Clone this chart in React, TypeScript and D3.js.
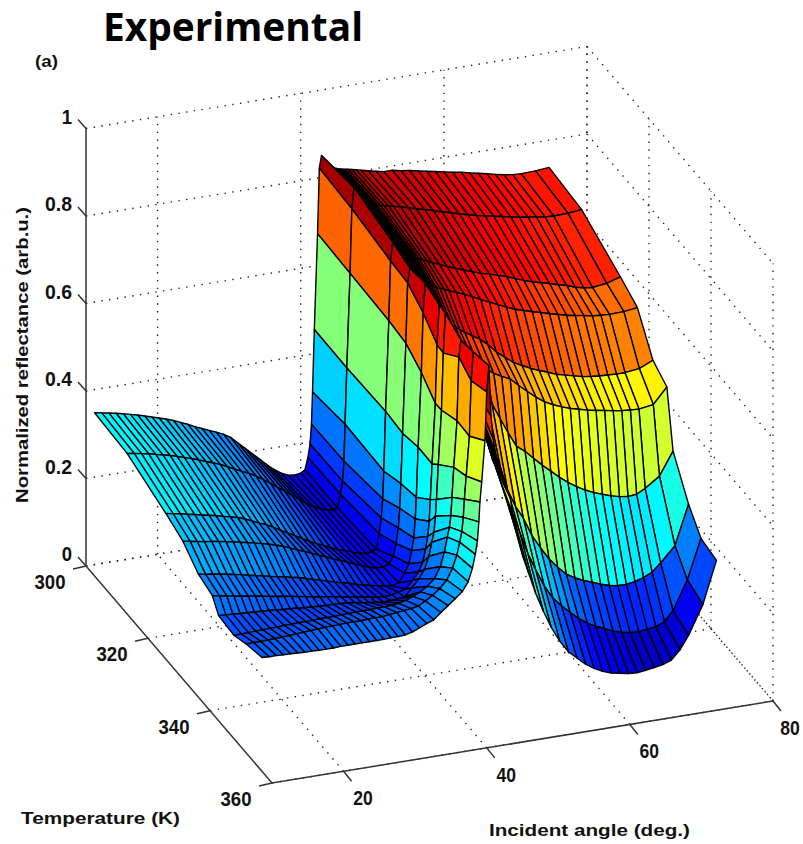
import React, { useEffect, useRef } from 'react';
import * as d3 from 'd3';

const angles = [
  11.2, 12.2, 13.2, 14.2, 15.2, 16.2, 17.2, 18.2, 19.2, 20.2, 21.2, 22.2, 23.2, 24.2, 25.2, 26.2, 27.2, 28.2, 29.2, 30.2, 31.2, 32.2, 33.2, 34.2, 35.2, 36.2, 37.2, 38.2,
  39.2, 40, 40.6, 41, 41.3, 41.5, 41.65, 41.9, 42.35, 42.6, 42.9,
  43.2, 43.5, 43.8, 44.1, 44.4, 44.7, 45, 45.3, 45.6, 45.9, 46.2, 46.6, 47.1, 47.7, 48.4, 49.4, 50.5, 51.6, 52.8, 54, 55.2, 56.4, 57.6, 58.8, 60, 61.2, 62.4, 63.6, 64.8, 66, 67.2, 68.4, 69.6, 70.8, 72.8, 74.7,
];
const temperatures = [300, 310.5, 323, 328.5, 333.5, 338, 340, 345, 349, 354];

const r300 = [
  .347, .344, .341, .338, .334, .33, .326, .321, .316, .311, .306, .30, .293, .286, .278, .271, .264, .257, .25, .24, .225, .21, .195, .18, .165, .151, .14, .132,
  .13, .132, .138, .165, .195, .24, .313, .455, .673, .822, .85,
  .84, .832, .827, .823, .82, .817, .815, .813, .812, .811, .81, .809, .807, .805, .802, .798, .794, .79, .79, .786, .783, .779, .775, .771, .767, .763, .76, .755, .751, .747, .742, .738, .735, .734, .735, .738,
];
const r310 = [
  .341, .338, .335, .332, .328, .324, .32, .315, .31, .305, .299, .293, .287, .281, .273, .265, .257, .25, .241, .23, .219, .207, .196, .184, .172, .16, .15, .142,
  .136, .135, .138, .168, .197, .242, .326, .454, .669, .816, .864,
  .85, .842, .836, .831, .827, .824, .821, .819, .817, .815, .814, .813, .811, .809, .806, .802, .797, .792, .787, .781, .775, .77, .764, .759, .754, .75, .746, .742, .738, .734, .731, .728, .725, .724, .725, .728,
];
const r323 = [
  .307, .304, .301, .297, .294, .29, .287, .283, .279, .275, .271, .265, .258, .25, .244, .235, .226, .217, .208, .199, .19, .182, .175, .167, .16, .155, .149, .144,
  .14, .143, .146, .181, .216, .259, .322, .458, .664, .80, .842,
  .835, .828, .823, .818, .814, .81, .807, .804, .802, .799, .797, .794, .79, .786, .78, .774, .766, .759, .752, .745, .738, .733, .727, .721, .713, .706, .699, .694, .689, .683, .678, .671, .666, .664, .668, .678,
];
const r328 = [
  .289, .286, .283, .28, .278, .275, .272, .269, .265, .262, .258, .254, .25, .245, .24, .233, .226, .22, .213, .206, .199, .192, .186, .179, .172, .166, .16, .155,
  .155, .16, .176, .204, .239, .283, .339, .453, .658, .795, .828,
  .818, .812, .806, .80, .797, .793, .789, .786, .783, .78, .778, .774, .771, .767, .762, .755, .748, .74, .73, .721, .712, .703, .695, .689, .683, .678, .672, .667, .662, .658, .655, .651, .649, .648, .649, .653,
];
const r333 = [
  .255, .252, .25, .247, .244, .241, .238, .234, .23, .227, .223, .22, .217, .213, .21, .205, .2, .196, .191, .186, .182, .178, .173, .169, .165, .162, .159, .156,
  .16, .18, .20, .229, .257, .30, .349, .463, .632, .768, .835,
  .815, .804, .794, .785, .775, .768, .761, .754, .748, .742, .736, .73, .724, .716, .708, .698, .687, .672, .652, .636, .621, .611, .601, .593, .586, .578, .573, .568, .563, .56, .558, .557, .556, .556, .56, .574,
];
const r338 = [
  .243, .24, .237, .234, .231, .229, .226, .223, .22, .217, .215, .212, .209, .206, .203, .2, .198, .195, .192, .189, .187, .184, .181, .178, .176, .178, .181, .186,
  .203, .22, .241, .27, .298, .332, .381, .462, .599, .732, .823,
  .80, .785, .771, .758, .746, .736, .726, .718, .712, .706, .70, .694, .687, .679, .67, .659, .646, .636, .627, .609, .592, .576, .562, .552, .544, .537, .532, .527, .523, .52, .516, .513, .511, .51, .515, .55,
];
const r340 = [
  .214, .213, .212, .211, .21, .209, .208, .207, .206, .204, .203, .202, .2, .199, .198, .197, .197, .196, .195, .193, .19, .188, .186, .184, .184, .185, .187, .205,
  .223, .243, .271, .302, .324, .36, .398, .477, .60, .73, .82,
  .785, .77, .755, .741, .73, .718, .707, .70, .692, .685, .678, .669, .658, .644, .625, .595, .56, .525, .49, .475, .456, .437, .42, .403, .388, .375, .364, .355, .348, .341, .336, .333, .335, .345, .368, .42,
];
const r345 = [
  .21, .211, .211, .212, .212, .213, .213, .214, .214, .215, .215, .215, .216, .216, .216, .217, .217, .218, .218, .218, .219, .219, .22, .222, .226, .232, .24, .25,
  .265, .29, .322, .355, .377, .403, .444, .512, .617, .762, .80,
  .74, .721, .703, .685, .67, .655, .64, .625, .612, .60, .59, .572, .55, .525, .495, .44, .40, .37, .327, .296, .267, .245, .226, .214, .205, .198, .19, .184, .18, .18, .183, .189, .198, .216, .25, .34,
];
const r349 = [
  .223, .224, .224, .225, .225, .226, .227, .228, .229, .23, .231, .232, .233, .233, .234, .234, .234, .235, .235, .235, .237, .239, .241, .243, .246, .255, .265, .278,
  .295, .32, .348, .376, .40, .432, .473, .525, .615, .741, .806,
  .72, .69, .667, .648, .625, .605, .588, .57, .552, .54, .525, .505, .48, .452, .42, .375, .325, .285, .245, .214, .193, .175, .158, .144, .133, .125, .116, .11, .106, .105, .107, .11, .118, .14, .205, .295,
];
const r354 = [
  .234, .233, .233, .232, .232, .231, .23, .23, .229, .229, .229, .23, .23, .23, .23, .23, .23, .23, .231, .231, .232, .236, .243, .25, .256, .27, .283, .296,
  .31, .33, .359, .39, .42, .463, .508, .553, .646, .757, .816,
  .70, .648, .617, .595, .58, .562, .547, .533, .52, .505, .47, .445, .405, .365, .33, .28, .235, .195, .16, .133, .115, .098, .085, .075, .068, .064, .06, .059, .061, .064, .068, .075, .095, .125, .19, .286,
];
const reflectance = [r300, r310, r323, r328, r333, r338, r340, r345, r349, r354];

const zTicks = [0, 0.2, 0.4, 0.6, 0.8, 1];
const angleTicks = [20, 40, 60, 80];
const tempTicks = [300, 320, 340, 360];

const App = () => {
  const chartRef = useRef<SVGSVGElement | null>(null);

  useEffect(() => {
    const svg = d3.select(chartRef.current);
    svg.selectAll('*').remove();

    // fixed orthographic view, MATLAB style
    const ox = 86;
    const oy = 566;
    const ax = d3.scaleLinear().domain([10, 80]).range([0, 501]);
    const ay = d3.scaleLinear().domain([10, 80]).range([0, -82]);
    const tx = d3.scaleLinear().domain([300, 360]).range([0, 186]);
    const ty = d3.scaleLinear().domain([300, 360]).range([0, 217]);
    const zy = d3.scaleLinear().domain([0, 1]).range([0, -437.5]);
    const project = (a: number, t: number, z: number): [number, number] => [
      ox + ax(a) + tx(t),
      oy + ay(a) + ty(t) + zy(z),
    ];

    // jet colormap over the data range
    const jet = d3.scaleLinear<string>()
      .domain([0.05, 0.15, 0.35, 0.55, 0.75, 0.85])
      .range(['#000080', '#0000ff', '#00ffff', '#ffff00', '#ff0000', '#800000'])
      .interpolate(d3.interpolateRgb)
      .clamp(true);

    const line = d3.line();
    const grid = svg.append('g')
      .attr('fill', 'none')
      .attr('stroke', '#222')
      .attr('stroke-width', 1.4)
      .attr('stroke-dasharray', '1.4 6.4');
    const dotted = (p: [number, number], q: [number, number]) =>
      grid.append('path').attr('d', line([p, q]));

    angleTicks.forEach(a => {
      dotted(project(a, 360, 0), project(a, 300, 0));
      dotted(project(a, 300, 0), project(a, 300, 1));
    });
    tempTicks.forEach(t => {
      dotted(project(10, t, 0), project(80, t, 0));
      dotted(project(80, t, 0), project(80, t, 1));
    });
    zTicks.forEach(z => {
      dotted(project(10, 300, z), project(80, 300, z));
      dotted(project(80, 300, z), project(80, 360, z));
    });

    // painter's order: back rows first, high angle first
    const surface = svg.append('g')
      .attr('stroke', '#000')
      .attr('stroke-width', 1.4)
      .attr('stroke-linejoin', 'round');
    for (let j = 0; j < temperatures.length - 1; j++) {
      for (let i = angles.length - 2; i >= 0; i--) {
        const quad = [
          project(angles[i], temperatures[j], reflectance[j][i]),
          project(angles[i + 1], temperatures[j], reflectance[j][i + 1]),
          project(angles[i + 1], temperatures[j + 1], reflectance[j + 1][i + 1]),
          project(angles[i], temperatures[j + 1], reflectance[j + 1][i]),
        ];
        surface.append('path')
          .attr('d', line(quad) + 'Z')
          .attr('fill', jet(reflectance[j][i]));
      }
    }

    // solid axes and ticks
    const axes = svg.append('g')
      .attr('fill', 'none')
      .attr('stroke', '#333')
      .attr('stroke-width', 1.5);
    axes.append('path').attr('d', line([project(10, 300, 1), project(10, 300, 0), project(10, 360, 0), project(80, 360, 0)]));
    zTicks.forEach(z => {
      const [x, y] = project(10, 300, z);
      axes.append('path').attr('d', line([[x, y], [x - 8, y - 9]]));
    });
    tempTicks.forEach(t => {
      const [x, y] = project(10, t, 0);
      axes.append('path').attr('d', line([[x, y], [x - 13, y + 3]]));
    });
    angleTicks.forEach(a => {
      const [x, y] = project(a, 360, 0);
      axes.append('path').attr('d', line([[x, y], [x + 8, y + 10]]));
    });

    const text = svg.append('g')
      .attr('font-family', '"Liberation Sans", Arial, sans-serif')
      .attr('font-weight', 700)
      .attr('fill', '#111');
    const label = (s: string, x: number, y: number, size: number, anchor = 'start') =>
      text.append('text')
        .attr('x', x).attr('y', y)
        .attr('font-size', size)
        .attr('text-anchor', anchor)
        .text(s);
    const fitted = (s: string, x: number, y: number, size: number, width: number, anchor = 'start') =>
      label(s, x, y, size, anchor)
        .attr('textLength', width)
        .attr('lengthAdjust', 'spacingAndGlyphs');
    const tickWidth = (s: string) => (s.includes('.') ? 27 : s.length * 10.3);

    zTicks.forEach(z => {
      const [x, y] = project(10, 300, z);
      const s = String(z);
      fitted(s, x - 14, y - 5, 20, tickWidth(s), 'end');
    });
    tempTicks.forEach(t => {
      const [x, y] = project(10, t, 0);
      fitted(String(t), x - 36, y + 23, 20, 31, 'middle');
    });
    angleTicks.forEach(a => {
      const [x, y] = project(a, 360, 0);
      // keep the last label inside the page edge
      fitted(String(a), Math.min(x + 19.5, 790), y + 34, 20, 19.5, 'middle');
    });

    fitted('(a)', 35, 67, 16, 23);
    fitted('Temperature (K)', 21, 824, 16.5, 159);
    fitted('Incident angle (deg.)', 489, 836, 16.5, 201);
    fitted('Normalized reflectance (arb.u.)', 0, 0, 16.5, 296)
      .attr('transform', 'translate(28,503) rotate(-90)');

    fitted('Experimental', 103, 41, 39, 260)
      .attr('font-family', '"Open Sans", sans-serif')
      .attr('fill', '#000');
  }, []);

  return (
    <svg
      ref={chartRef}
      width={803}
      height={844}
      style={{ position: 'absolute', left: 0, top: 0, display: 'block', background: '#fff' }}
    />
  );
};

export default App;
